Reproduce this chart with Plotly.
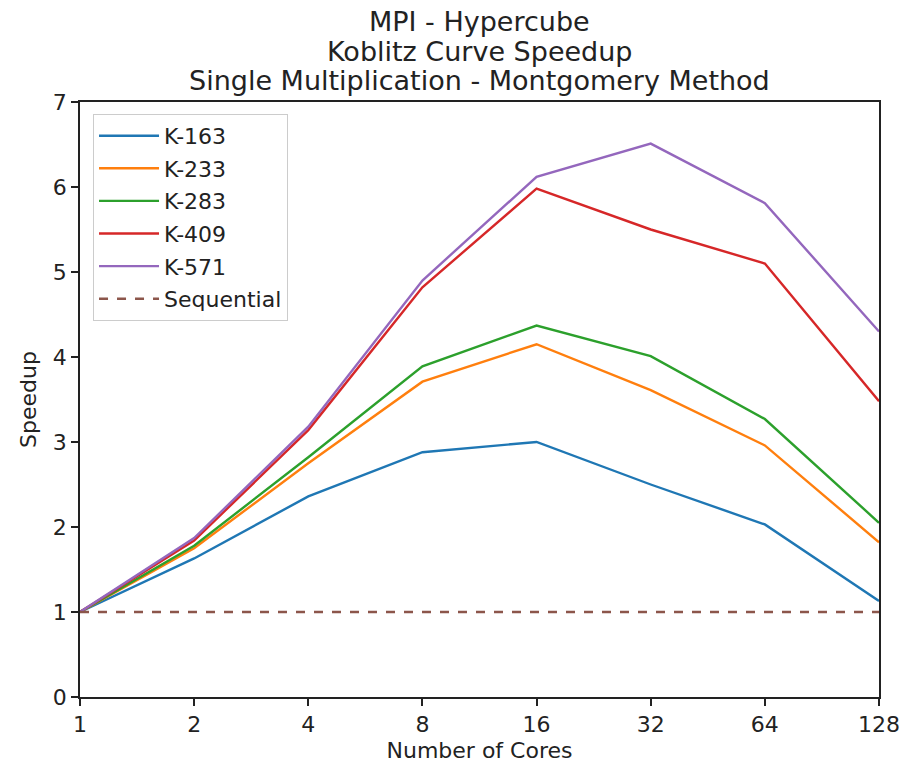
import math
import plotly.graph_objects as go

cores = [1, 2, 4, 8, 16, 32, 64, 128]
tick_labels = ["1", "2", "4", "8", "16", "32", "64", "128"]
k163 = [1.0, 1.63, 2.36, 2.88, 3.00, 2.50, 2.03, 1.13]
k233 = [1.0, 1.75, 2.75, 3.71, 4.15, 3.61, 2.96, 1.82]
k283 = [1.0, 1.78, 2.82, 3.89, 4.37, 4.01, 3.27, 2.05]
k409 = [1.0, 1.84, 3.14, 4.82, 5.98, 5.50, 5.10, 3.48]
k571 = [1.0, 1.87, 3.18, 4.90, 6.12, 6.51, 5.81, 4.30]
sequential = [1, 1, 1, 1, 1, 1, 1, 1]
title_lines = ["MPI - Hypercube", "Koblitz Curve Speedup",
               "Single Multiplication - Montgomery Method"]

series = [
    ("K-163", k163, "#1f77b4"),
    ("K-233", k233, "#ff7f0e"),
    ("K-283", k283, "#2ca02c"),
    ("K-409", k409, "#d62728"),
    ("K-571", k571, "#9467bd"),
]

fig = go.Figure()
for name, vals, color in series:
    fig.add_trace(go.Scatter(x=cores, y=vals, mode="lines", name=name,
                             legendgroup=name,
                             line=dict(color=color, width=2.4)))
fig.add_trace(go.Scatter(x=cores, y=sequential, mode="lines", name="Sequential",
                         legendgroup="seq",
                         line=dict(color="#8c564b", width=2.4, dash="dash")))

font_family = "DejaVu Sans"
plot_top, plot_h = 102, 595
title_centers = [21, 51, 81]
for txt, yc in zip(title_lines, title_centers):
    fig.add_annotation(
        text=txt, xref="paper", yref="paper",
        x=0.5, y=1 + (plot_top - yc) / plot_h,
        xanchor="center", yanchor="middle", showarrow=False,
        font=dict(family=font_family, size=27, color="#222"),
    )

fig.update_layout(
    width=916, height=765,
    margin=dict(l=80, r=37, t=102, b=68, autoexpand=False),
    paper_bgcolor="white", plot_bgcolor="white",
    font=dict(family=font_family, size=22, color="#222"),
    legend=dict(
        x=0.0163, y=0.98, xanchor="left", yanchor="top",
        bgcolor="rgba(255,255,255,0.9)", bordercolor="#cccccc", borderwidth=1,
        font=dict(size=22), itemwidth=60, tracegroupgap=1,
    ),
    showlegend=True,
)
fig.update_xaxes(
    type="log", range=[math.log10(1), math.log10(128)],
    tickvals=cores, ticktext=tick_labels,
    showgrid=False, zeroline=False, automargin=False,
    showline=True, linecolor="#222", linewidth=1.8, mirror=True,
    ticks="outside", ticklen=7, tickcolor="#222", tickwidth=1.5,
    tickfont=dict(size=22),
    title=dict(text="Number of Cores", standoff=6, font=dict(size=22)),
)
fig.update_yaxes(
    range=[0, 7], dtick=1,
    showgrid=False, zeroline=False, automargin=False,
    showline=True, linecolor="#222", linewidth=1.8, mirror=True,
    ticks="outside", ticklen=7, tickcolor="#222", tickwidth=1.5,
    tickfont=dict(size=22),
    title=dict(text="Speedup", standoff=10, font=dict(size=22)),
)

fig.write_html("out.html")
